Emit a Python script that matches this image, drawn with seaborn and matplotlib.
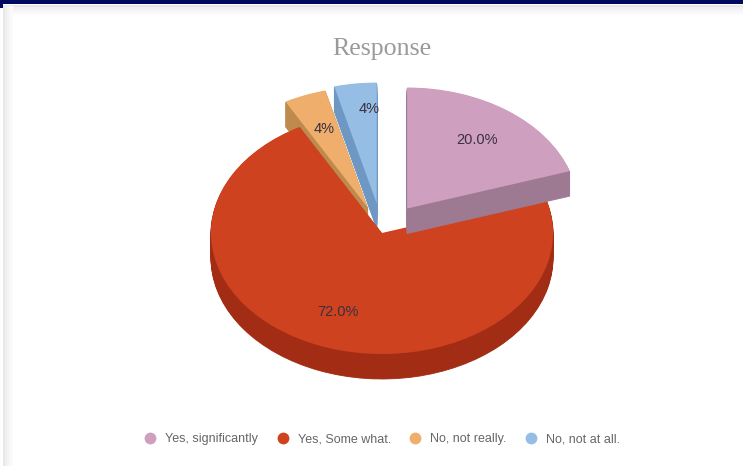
import matplotlib
matplotlib.use("Agg")
import matplotlib.pyplot as plt
from matplotlib.lines import Line2D
from matplotlib.patches import Rectangle
import seaborn as sns

categories = ["Yes, significantly", "Yes, Some what.", "No, not really.", "No, not at all."]
values = [20, 72, 4, 4]
explode_frac = [0.25, 0, 0.225, 0.245]
top_colors = ["#CF9FC0", "#CF4220", "#EFAE6C", "#96BDE4"]
side_colors = ["#9E7A92", "#A32D14", "#BF8A4E", "#6F97C4"]
title = "Response"

sns.set_theme(style="white")
plt.rcParams["font.family"] = ["Liberation Sans", "DejaVu Sans"]

W, H = 743, 466
RADIUS = 171
SQUASH = 121 / 171          # vertical foreshortening of the tilted pie
DEPTH = 25                  # extrusion depth, px
CX, CY = 382, 233           # pie centre, px
explode = [e * RADIUS for e in explode_frac]  # pie() takes explode in data units here


def y_data(py):
    return (H - py) / SQUASH


fig = plt.figure(figsize=(W / 100, H / 100), dpi=100, facecolor="white")
ax = fig.add_axes([0, 0, 1, 1])

# stacking order of the slices: blue, orange, red, pink
order = {3: 1, 2: 2, 1: 3, 0: 4}
palette_top = sns.color_palette(top_colors)
palette_side = sns.color_palette(side_colors)

for d in range(DEPTH, 0, -1):
    wedges, _ = ax.pie(values, explode=explode, colors=palette_side, startangle=90,
                       counterclock=False, radius=RADIUS,
                       center=(CX, y_data(CY + d)),
                       wedgeprops={"linewidth": 0.6}, normalize=True)
    for i, w in enumerate(wedges):
        w.set_edgecolor(palette_side[i])
        w.set_zorder(order[i] * 100 + DEPTH - d)


def pct_label(p):
    return f"{p:.1f}%" if p >= 10 else f"{p:.0f}%"


wedges, _, autotexts = ax.pie(values, explode=explode, colors=palette_top, startangle=90,
                              counterclock=False, radius=RADIUS,
                              center=(CX, y_data(CY)),
                              autopct=pct_label, pctdistance=0.7,
                              wedgeprops={"linewidth": 0},
                              textprops={"fontsize": 10.5, "color": "#3a3040"},
                              normalize=True)
for i, w in enumerate(wedges):
    w.set_zorder(order[i] * 100 + DEPTH)
for t in autotexts:
    t.set_zorder(1000)
bx, by = autotexts[3].get_position()
autotexts[3].set_position((bx + 7, by + 11 / SQUASH))

ax.set_aspect("auto")
ax.set_xlim(0, W)
ax.set_ylim(0, H / SQUASH)

fig.text(382 / W, 1 - 49 / H, title, ha="center", va="center",
         family="Liberation Serif", fontsize=18.6, color="#9a9a9a")

# page furniture
fig.add_artist(Rectangle((0, 1 - 4 / H), 1, 4 / H, transform=fig.transFigure,
                         color="#000B5F", lw=0))
fig.add_artist(Rectangle((0, 1 - 8 / H), 3 / W, 8 / H, transform=fig.transFigure,
                         color="#000B5F", lw=0))
for i, g in enumerate(["#e8e8e8", "#efefef", "#f4f4f4", "#f8f8f8", "#fbfbfb"]):
    fig.add_artist(Rectangle(((3 + i * 2) / W, 0), 2 / W, 1 - 6 / H,
                             transform=fig.transFigure, color=g, lw=0))
    fig.add_artist(Rectangle(((3 + i * 2) / W, 1 - (5 + i * 2 + 2) / H), 1 - (3 + i * 2) / W, 2 / H,
                             transform=fig.transFigure, color=g, lw=0))

handles = [Line2D([], [], ls="", marker="o", ms=8.5, mfc=c, mec="none") for c in palette_top]
fig.legend(handles, categories, ncol=4, loc="center", bbox_to_anchor=(382 / W, 1 - 439 / H),
           frameon=False, fontsize=9, labelcolor="#666666", handletextpad=0.7,
           columnspacing=1.45, handlelength=1.0, borderpad=0)

fig.savefig("out.png", dpi=100, facecolor="white")
